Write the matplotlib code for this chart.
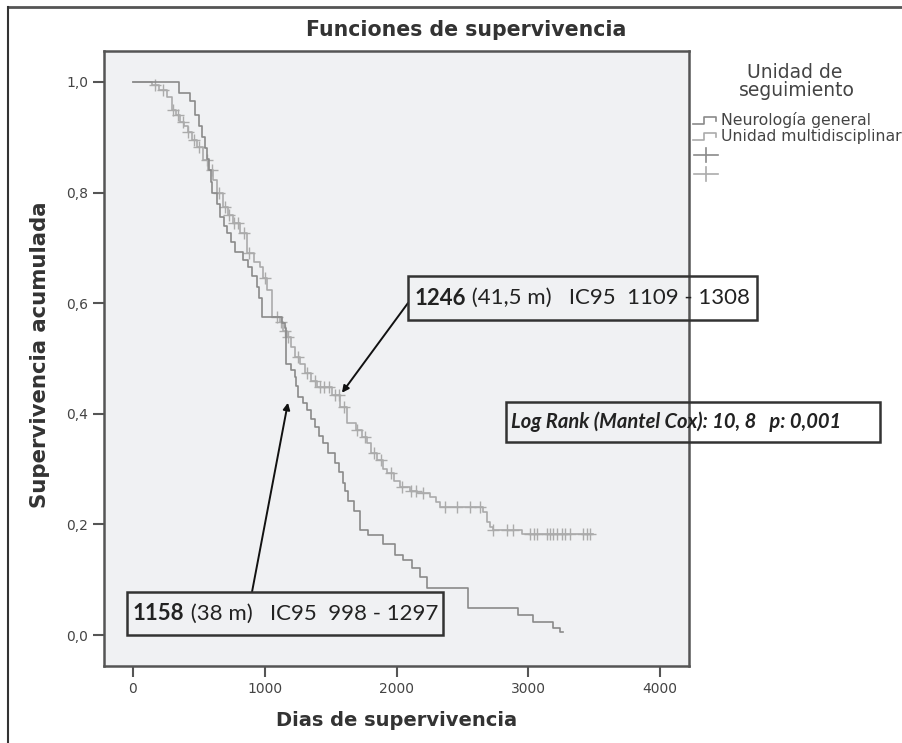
import matplotlib
matplotlib.use("Agg")
import matplotlib.pyplot as plt
from matplotlib.lines import Line2D
from matplotlib.patches import Rectangle
import numpy as np

# Neurología general (event times in days, survival after each step)
t_neuro = [0, 350, 430, 470, 500, 520, 547, 565, 580, 590, 600, 640, 660, 690, 713,
           745, 774, 835, 870, 900, 941, 960, 979, 1130, 1150, 1161, 1165, 1200, 1230,
           1240, 1250, 1290, 1320, 1350, 1381, 1410, 1442, 1480, 1533, 1560, 1594,
           1610, 1630, 1680, 1723, 1780, 1900, 1989, 2050, 2118, 2180, 2231, 2543,
           2922, 3036, 3188, 3240, 3264]
s_neuro = [1.0, 0.98, 0.965, 0.94, 0.92, 0.90, 0.88, 0.86, 0.84, 0.82, 0.80, 0.78,
           0.756, 0.74, 0.727, 0.71, 0.692, 0.678, 0.665, 0.65, 0.629, 0.61, 0.575,
           0.565, 0.555, 0.52, 0.49, 0.48, 0.467, 0.45, 0.43, 0.42, 0.407, 0.39, 0.376,
           0.36, 0.347, 0.33, 0.311, 0.295, 0.275, 0.26, 0.242, 0.225, 0.19, 0.18,
           0.165, 0.145, 0.135, 0.121, 0.105, 0.085, 0.049, 0.036, 0.024, 0.013,
           0.006, 0.006]

# Unidad multidisciplinar
t_multi = [0, 144, 200, 258, 296, 330, 357, 390, 417, 450, 486, 531, 569, 607, 640,
           683, 720, 759, 812, 865, 920, 964, 990, 1017, 1055, 1116, 1140, 1169, 1200,
           1230, 1270, 1305, 1350, 1397, 1510, 1571, 1624, 1690, 1738, 1776, 1810,
           1852, 1900, 1928, 1980, 2027, 2100, 2156, 2254, 2300, 2330, 2657, 2690,
           2710, 2733, 2953, 3490]
s_multi = [1.0, 0.995, 0.985, 0.973, 0.949, 0.94, 0.928, 0.92, 0.91, 0.895, 0.882,
           0.859, 0.841, 0.823, 0.80, 0.774, 0.76, 0.745, 0.727, 0.691, 0.675, 0.665,
           0.645, 0.624, 0.575, 0.566, 0.55, 0.539, 0.52, 0.503, 0.49, 0.474, 0.46,
           0.448, 0.434, 0.412, 0.383, 0.37, 0.358, 0.347, 0.33, 0.316, 0.30, 0.293,
           0.278, 0.268, 0.26, 0.257, 0.25, 0.24, 0.231, 0.222, 0.205, 0.195, 0.19,
           0.183, 0.182]

# censored cases, multidisciplinary unit
cens_multi = [170, 230, 300, 340, 380, 420, 460, 500, 560, 600, 650, 700, 730, 770,
              800, 840, 880, 1000, 1090, 1120, 1150, 1180, 1250, 1320, 1380, 1420,
              1450, 1490, 1530, 1560, 1600, 1700, 1760, 1830, 1880, 1960, 2040, 2110,
              2150, 2200, 2368, 2459, 2558, 2634, 2733, 2839, 2884, 3013, 3044, 3067,
              3143, 3165, 3188, 3218, 3256, 3279, 3317, 3416, 3446, 3469]

col_neuro = "#8a8a8a"
col_multi = "#ababab"

W, H = 903, 743
fig = plt.figure(figsize=(W / 100, H / 100), dpi=100)


def fx(x, y):
    # image pixels (from top-left) -> figure fraction
    return x / W, 1 - y / H


ax = fig.add_axes([104 / W, 1 - 666 / H, (689 - 104) / W, (666 - 51) / H])
ax.set_facecolor("#f0f1f3")
ax.step(t_neuro, s_neuro, where="post", color=col_neuro, lw=1.2, zorder=3)
ax.step(t_multi, s_multi, where="post", color=col_multi, lw=1.2, zorder=2)
tm = np.array(t_multi)
sm = np.array(s_multi)
idx = np.searchsorted(tm, cens_multi, side="right") - 1
ax.plot(cens_multi, sm[idx], ls="none", marker="+", ms=8, mew=1.0,
        color=col_multi, zorder=2)

ax.set_xlim(-220, 4220)
ax.set_ylim(-0.056, 1.056)
ax.set_xticks([0, 1000, 2000, 3000, 4000])
ax.set_yticks([0, 0.2, 0.4, 0.6, 0.8, 1.0])
ax.set_yticklabels(["0,0", "0,2", "0,4", "0,6", "0,8", "1,0"])
ax.tick_params(length=8, width=1.5, color="#555555", labelcolor="#444444",
               labelsize=10)
for sp in ax.spines.values():
    sp.set_color("#555555")
    sp.set_linewidth(1.8)

fig.text(*fx(466, 30), "Funciones de supervivencia", ha="center", va="center",
         fontsize=14.8, color="#333333", fontweight="bold")
fig.text(*fx(40, 355), "Supervivencia acumulada", ha="center", va="center",
         rotation=90, fontsize=15.3, color="#333333", fontweight="bold")
fig.text(*fx(397, 720), "Dias de supervivencia", ha="center", va="center",
         fontsize=14, color="#333333", fontweight="bold")

# legend
fig.text(*fx(795, 73), "Unidad de", ha="center", va="center", fontsize=13.5,
         color="#444444")
fig.text(*fx(797, 91), "seguimiento", ha="center", va="center", fontsize=13.5,
         color="#444444")
for yy, c, lab in [(120, col_neuro, "Neurología general"),
                   (136, col_multi, "Unidad multidisciplinar")]:
    xs = np.array([693, 704, 704, 716, 716]) / W
    ys = 1 - np.array([yy + 4, yy + 4, yy - 3, yy - 3, yy + 1]) / H
    fig.add_artist(Line2D(xs, ys, color=c, lw=1.2))
    fig.text(*fx(721, yy), lab, ha="left", va="center", fontsize=11.3,
             color="#444444")
for yy, c in [(155, col_neuro), (174, col_multi)]:
    fig.add_artist(Line2D([694 / W, 718 / W], [1 - yy / H] * 2, color=c, lw=1.2))
    fig.add_artist(Line2D([706 / W] * 2, [1 - (yy - 7) / H, 1 - (yy + 7) / H],
                          color=c, lw=1.2))

# annotation boxes
ann_font = "Lato"
boxes = [((408, 276, 757, 320), (415, 298), "1246", " (41,5 m)   IC95  1109 - 1308"),
         ((127, 592, 443, 635), (133, 614), "1158", " (38 m)   IC95  998 - 1297")]
for (x0, y0, x1, y1), (tx, ty), bold, rest in boxes:
    fig.add_artist(Rectangle(fx(x0, y1), (x1 - x0) / W, (y1 - y0) / H,
                             transform=fig.transFigure, fill=False,
                             edgecolor="#333333", lw=1.8, zorder=5))
    t1 = fig.text(*fx(tx, ty), bold, ha="left", va="center", fontsize=16,
                  fontweight="bold", color="#222222", family=ann_font)
    ax.annotate(rest, xy=(1, 0.5), xycoords=t1, ha="left", va="center",
                fontsize=16, color="#222222", family=ann_font)

fig.add_artist(Rectangle(fx(506, 442), (880 - 506) / W, 40 / H,
                         transform=fig.transFigure, fill=False,
                         edgecolor="#333333", lw=1.8, zorder=5))
fig.text(*fx(511, 422), "Log Rank (Mantel Cox): 10, 8   p: 0,001", ha="left",
         va="center", fontsize=14.5, fontweight="bold", style="italic",
         color="#222222", family=ann_font)

# arrows pointing to the curves
ax.annotate("", xy=(1586, 0.438), xycoords="data", xytext=fx(408, 303),
            textcoords="figure fraction",
            arrowprops=dict(arrowstyle="-|>", color="#111111", lw=1.4,
                            mutation_scale=10, shrinkA=0, shrinkB=0))
ax.annotate("", xy=(1176, 0.42), xycoords="data", xytext=fx(252, 592),
            textcoords="figure fraction",
            arrowprops=dict(arrowstyle="-|>", color="#111111", lw=1.4,
                            mutation_scale=10, shrinkA=0, shrinkB=0))

# outer frame (top and left edges of the cropped figure)
fig.add_artist(Line2D([8 / W, 1], [1 - 7 / H] * 2, color="#555555", lw=2))
fig.add_artist(Line2D([8 / W] * 2, [0, 1 - 7 / H], color="#333333", lw=1.5))

fig.savefig("out.png", dpi=100)
